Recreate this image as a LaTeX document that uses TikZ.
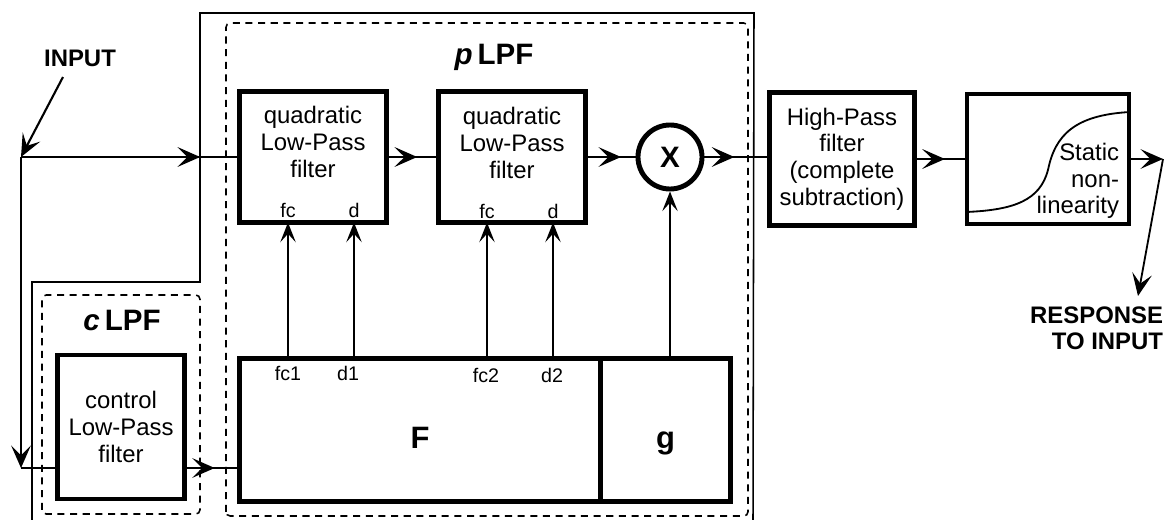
\documentclass[tikz,border=0pt]{standalone}
\usepackage{fontspec}
\setmainfont{Liberation Sans}
\usetikzlibrary{arrows.meta, positioning, calc, decorations.markings}

\begin{document}
\begin{tikzpicture}[
    x=0.025cm, y=-0.025cm,
    blk/.style={
        rectangle, draw, line width=3.5pt, outer sep=0pt, inner sep=0pt,
        minimum width=3.675cm, minimum height=3.275cm
    },
    txt/.style={align=center, font=\fontsize{17}{19}\selectfont},
    port/.style={font=\fontsize{14}{16}\selectfont, inner sep=1pt},
    big/.style={font=\fontsize{21}{24}\selectfont\bfseries},
    tag/.style={align=right, font=\fontsize{17}{18.5}\selectfont\bfseries},
    sig/.style={line width=2pt},
    tip/.style={-{Stealth[length=16pt, width=14pt, inset=7pt]}},
    midarr/.style={postaction={decorate}, decoration={markings,
        mark=at position #1 with {\arrow{Stealth[length=16pt, width=14pt, inset=7pt]}}}},
    ctl/.style={line width=1.1pt, -{Stealth[length=14pt, width=11pt, inset=6pt]}},
    frame/.style={line width=1.1pt},
    grp/.style={line width=1.1pt, dash pattern=on 5pt off 4pt, rounded corners=3pt},
]
\useasboundingbox (0,0) rectangle (1172,520);

% ── Frames ────────────────────────────
\draw[frame] (32,522) -- (32,282) -- (200,282) -- (200,13) -- (754,13) -- (753,522);
\draw[grp] (42,514) rectangle (200,295);
\draw[grp] (226,516) rectangle (748,23);
\node[big] (plpf) at (494,57) {\textit{p}\,LPF};
\node[big] (clpf) at (122,320) {\textit{c}\,LPF};

% ── Upper row ────────────────────────────
\node[blk] (Q1) at (313,157) {};
\node[txt] (Q1t) at (313,142) {quadratic\\Low-Pass\\filter};
\node[port] (q1fc) at (288,210) {fc};
\node[port] (q1d) at (354,210) {d};

\node[blk] (Q2) at (512,157) {};
\node[txt] (Q2t) at (512,143) {quadratic\\Low-Pass\\filter};
\node[port] (q2fc) at (487,211) {fc};
\node[port] (q2d) at (553,211) {d};

\node[circle, draw, line width=3.5pt, minimum size=1.6cm, inner sep=0pt,
      font=\fontsize{21}{24}\selectfont\bfseries] (mul) at (670,157) {X};

\node[blk, txt, minimum width=3.625cm, minimum height=3.325cm] (hp) at (842,159)
    {High-Pass\\filter\\(complete\\subtraction)};

\node[blk, minimum width=4.05cm, minimum height=3.25cm] (sn) at (1048,159) {};
\draw[line width=1.3pt] (966,212) .. controls (1015,210) and (1040,200) .. (1048,170)
    .. controls (1055,135) and (1075,115) .. (1130,112);
\node[txt, align=right, anchor=east] (snt) at (1124,181) {Static\\non-\\linearity};

% ── Lower row ────────────────────────────
\node[blk, txt, minimum width=3.175cm, minimum height=3.6cm] (ctrl) at (121,427)
    {control\\Low-Pass\\filter};
\node[blk, minimum width=9.025cm, minimum height=3.575cm] (F) at (420,430) {};
\node[blk, minimum width=3.25cm, minimum height=3.575cm, anchor=west] (g) at (F.east) {};
\node[big, font=\fontsize{22}{24}\selectfont\bfseries, anchor=base] (Flab) at (420,448) {F};
\node[big, font=\fontsize{22}{24}\selectfont\bfseries, anchor=base] (glab) at (g.center |- Flab.base) {g};
\node[port] (fc1) at (288,373) {fc1};
\node[port] (d1) at (348,373) {d1};
\node[port] (fc2) at (486,375) {fc2};
\node[port] (d2) at (552,375) {d2};

% ── Input / output ────────────────────────────
\node[tag, align=center] (inp) at (80,58) {INPUT};
\coordinate (inFrom) at (63,77);
\coordinate (junc) at (21,157);
\coordinate (bend) at (21,468);
\node[tag, anchor=north east] (resp) at (1168,302) {RESPONSE\\TO INPUT};
\coordinate (outTip) at (1163,159);
\coordinate (respTip) at (1138,296);

% ── Signal path ────────────────────────────
\draw[line width=1.5pt, tip] (inFrom) -- (junc);
\draw[sig, midarr=0.82] (junc) -- (Q1.west);
\draw[sig, midarr=0.59] (Q1.east) -- (Q2.west);
\draw[sig, midarr=0.71] (Q2.east) -- (mul.west);
\draw[sig, midarr=0.46] (mul.east) -- (mul.east -| hp.west);
\draw[sig, midarr=0.58] (hp.east) -- (sn.west);
\draw[sig, tip] (sn.east) -- (outTip);
\draw[line width=1.3pt, tip] (outTip) -- (respTip);

\draw[sig, tip] (junc) -- (bend);
\draw[sig] (bend) -- (bend -| ctrl.west);
\draw[sig, midarr=0.55] (ctrl.east |- bend) -- (F.west |- bend);

% ── Control lines ────────────────────────────
\draw[ctl] (q1fc |- F.north) -- (q1fc |- Q1.south);
\draw[ctl] (q1d |- F.north) -- (q1d |- Q1.south);
\draw[ctl] (q2fc |- F.north) -- (q2fc |- Q2.south);
\draw[ctl] (q2d |- F.north) -- (q2d |- Q2.south);
\draw[ctl] (mul |- g.north) -- (mul.south);

\end{tikzpicture}
\end{document}
